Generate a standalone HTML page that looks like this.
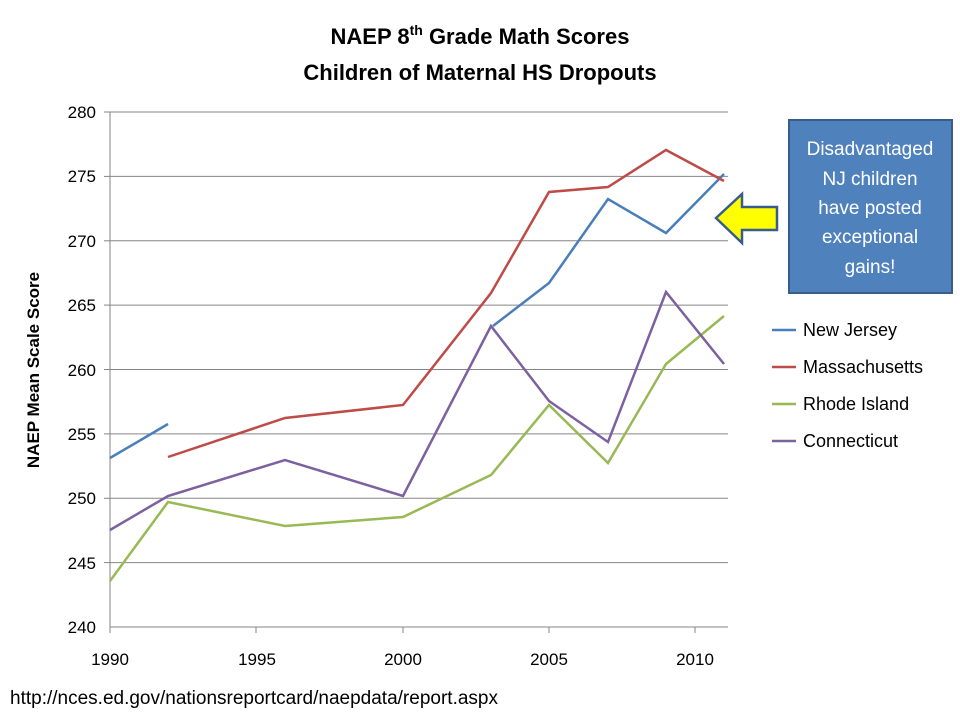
<!DOCTYPE html>
<html><head><style>
body{margin:0;width:960px;height:720px;background:#fff;overflow:hidden;font-family:"Liberation Sans",sans-serif}
</style></head><body>
<svg width="960" height="720" xmlns="http://www.w3.org/2000/svg" font-family="Liberation Sans, sans-serif">
<text x="480" y="44" text-anchor="middle" font-size="22" font-weight="bold">NAEP 8<tspan font-size="14" dy="-9">th</tspan><tspan dy="9"> Grade Math Scores</tspan></text>
<text x="480" y="80" text-anchor="middle" font-size="22" font-weight="bold">Children of Maternal HS Dropouts</text>
<g stroke="#868686" stroke-width="1">
<line x1="110" y1="112" x2="728" y2="112"/><line x1="110" y1="176.4" x2="728" y2="176.4"/>
<line x1="110" y1="240.8" x2="728" y2="240.8"/><line x1="110" y1="305.1" x2="728" y2="305.1"/>
<line x1="110" y1="369.5" x2="728" y2="369.5"/><line x1="110" y1="433.9" x2="728" y2="433.9"/>
<line x1="110" y1="498.3" x2="728" y2="498.3"/><line x1="110" y1="562.6" x2="728" y2="562.6"/>
<line x1="110" y1="627" x2="728" y2="627"/>
<line x1="110" y1="112" x2="110" y2="627"/>
<line x1="104" y1="112" x2="110" y2="112"/><line x1="104" y1="176.4" x2="110" y2="176.4"/><line x1="104" y1="240.8" x2="110" y2="240.8"/><line x1="104" y1="305.1" x2="110" y2="305.1"/><line x1="104" y1="369.5" x2="110" y2="369.5"/><line x1="104" y1="433.9" x2="110" y2="433.9"/><line x1="104" y1="498.3" x2="110" y2="498.3"/><line x1="104" y1="562.6" x2="110" y2="562.6"/>
<line x1="256" y1="627" x2="256" y2="633"/><line x1="403" y1="627" x2="403" y2="633"/><line x1="549" y1="627" x2="549" y2="633"/><line x1="695" y1="627" x2="695" y2="633"/><line x1="110" y1="627" x2="110" y2="633"/>
</g>
<g font-size="17" text-anchor="end">
<text x="96" y="118">280</text><text x="96" y="182">275</text><text x="96" y="247">270</text><text x="96" y="311">265</text><text x="96" y="376">260</text><text x="96" y="440">255</text><text x="96" y="504">250</text><text x="96" y="569">245</text><text x="96" y="633">240</text>
</g>
<g font-size="17" text-anchor="middle">
<text x="110" y="665">1990</text><text x="257" y="665">1995</text><text x="403" y="665">2000</text><text x="549" y="665">2005</text><text x="695" y="665">2010</text>
</g>
<text transform="translate(39,370) rotate(-90)" text-anchor="middle" font-size="17" font-weight="bold">NAEP Mean Scale Score</text>
<svg x="0" y="0" width="728" height="720" overflow="hidden">
<g fill="none" stroke-width="2.5">
<polyline stroke="#4A7EBB" points="110,458 168,424"/>
<polyline stroke="#4A7EBB" points="493,326 549,283 608,199 666,233 724,174"/>
<polyline stroke="#BE4B48" points="168,457 285,418 403,405 491,293 549,192 608,187 666,150 724,181"/>
<polyline stroke="#98B954" points="110,581 168,502 285,526 403,517 491,475 549,405 608,463 666,364 724,316"/>
<polyline stroke="#7D60A0" points="110,530 168,496 285,460 403,496 491,326 549,401 608,442 666,292 724,364"/>
</g>
</svg>
<g font-size="18">
<line x1="772" y1="330" x2="796" y2="330" stroke="#4A7EBB" stroke-width="2.5"/><text x="803" y="336">New Jersey</text>
<line x1="772" y1="367" x2="796" y2="367" stroke="#BE4B48" stroke-width="2.5"/><text x="803" y="373">Massachusetts</text>
<line x1="772" y1="404" x2="796" y2="404" stroke="#98B954" stroke-width="2.5"/><text x="803" y="410">Rhode Island</text>
<line x1="772" y1="441" x2="796" y2="441" stroke="#7D60A0" stroke-width="2.5"/><text x="803" y="447">Connecticut</text>
</g>
<rect x="789" y="120" width="163" height="173" fill="#4F81BD" stroke="#385D8A" stroke-width="2"/>
<g fill="#fff" font-size="19" text-anchor="middle">
<text x="870" y="155">Disadvantaged</text><text x="870" y="185">NJ children</text><text x="870" y="214">have posted</text><text x="870" y="243">exceptional</text><text x="870" y="273">gains!</text>
</g>
<polygon points="716,218 742,194 742,207 777,207 777,230 742,230 742,243" fill="#FFFF00" stroke="#385D8A" stroke-width="2.5"/>
<text x="10" y="704" font-size="19">http://nces.ed.gov/nationsreportcard/naepdata/report.aspx</text>
</svg>
</body></html>
